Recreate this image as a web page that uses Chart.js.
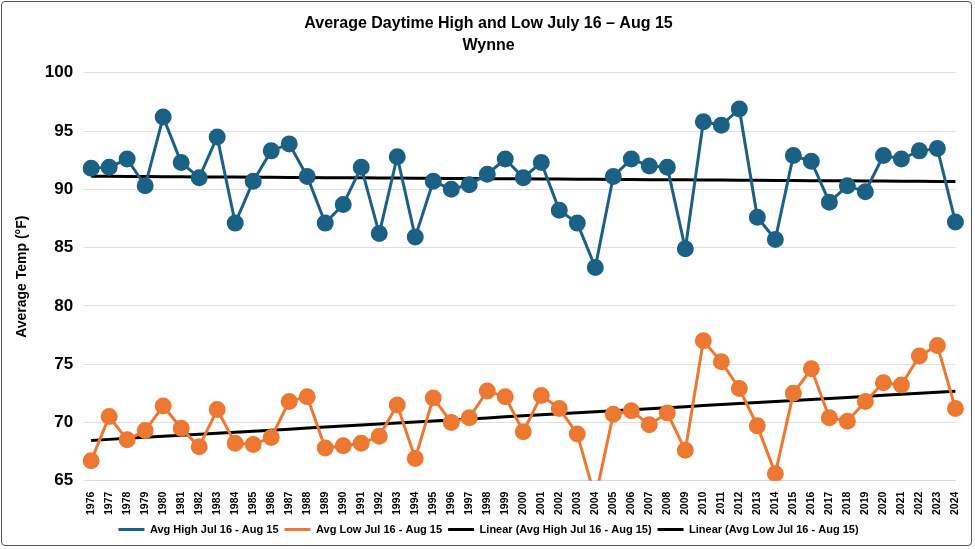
<!DOCTYPE html>
<html>
<head>
<meta charset="utf-8">
<script src="https://cdn.jsdelivr.net/npm/chart.js@4"></script>
<style>
  body { margin: 0; background: #fff; }
  #wrap { position: absolute; left: 1px; top: 1px; width: 971px; height: 545px; border: 1px solid #555; border-radius: 4px; box-sizing: border-box; }
</style>
</head>
<body>
<div id="wrap"><canvas id="chart"></canvas></div>
<script>
const years = [];
for (let y = 1976; y <= 2024; y++) years.push(String(y));

const highs = [91.8, 91.9, 92.6, 90.3, 96.2, 92.3, 91.0, 94.5, 87.1, 90.7,
    93.3, 93.9, 91.1, 87.1, 88.7, 91.9, 86.2, 92.8, 85.9, 90.7,
    90.0, 90.4, 91.3, 92.6, 91.0, 92.3, 88.2, 87.1, 83.3, 91.1,
    92.6, 92.0, 91.9, 84.9, 95.8, 95.5, 96.9, 87.6, 85.7, 92.9,
    92.4, 88.9, 90.3, 89.8, 92.9, 92.6, 93.3, 93.5, 87.2];

const lows = [66.7, 70.5, 68.5, 69.3, 71.4, 69.5, 67.9, 71.1, 68.2, 68.1,
    68.7, 71.8, 72.2, 67.8, 68.0, 68.2, 68.8, 71.5, 66.9, 72.1,
    70.0, 70.4, 72.7, 72.2, 69.2, 72.3, 71.2, 69.0, 63.5, 70.7,
    71.0, 69.8, 70.8, 67.6, 77.0, 75.2, 72.9, 69.7, 65.6, 72.5,
    74.6, 70.4, 70.1, 71.8, 73.4, 73.2, 75.7, 76.6, 71.2];

// least squares trend, like Excel's linear trendline
function linearFit(values) {
    const n = values.length;
    let sx = 0, sy = 0, sxy = 0, sxx = 0;
    values.forEach((v, i) => { sx += i; sy += v; sxy += i * v; sxx += i * i; });
    const b = (n * sxy - sx * sy) / (n * sxx - sx * sx);
    const a = (sy - b * sx) / n;
    return values.map((v, i) => a + b * i);
}

const blue = '#1a6185';
const orange = '#ed7832';
const bold = { family: 'Liberation Sans, Arial', weight: 'bold' };

new Chart('chart', {
    type: 'line',
    data: {
        labels: years,
        datasets: [{
            label: 'Avg High Jul 16 - Aug 15',
            data: highs,
            borderColor: blue, backgroundColor: blue,
            borderWidth: 3, pointRadius: 7, pointHoverRadius: 7
        }, {
            label: 'Avg Low Jul 16 - Aug 15',
            data: lows,
            borderColor: orange, backgroundColor: orange,
            borderWidth: 3, pointRadius: 7, pointHoverRadius: 7
        }, {
            label: 'Linear (Avg High Jul 16 - Aug 15)',
            data: linearFit(highs),
            borderColor: '#000', backgroundColor: '#000',
            borderWidth: 3, pointRadius: 0
        }, {
            label: 'Linear (Avg Low Jul 16 - Aug 15)',
            data: linearFit(lows),
            borderColor: '#000', backgroundColor: '#000',
            borderWidth: 3, pointRadius: 0
        }]
    },
    options: {
        animation: false,
        responsive: true,
        maintainAspectRatio: false,
        layout: { padding: { left: 8, right: 4, top: 4, bottom: 0 } },
        plugins: {
            title: {
                display: true,
                text: ['Average Daytime High and Low July 16 \u2013 Aug 15', 'Wynne'],
                color: '#000',
                font: { ...bold, size: 16, lineHeight: 1.4 },
                padding: { top: 6, bottom: 16 }
            },
            legend: {
                position: 'bottom',
                labels: {
                    color: '#333',
                    font: { ...bold, size: 11 },
                    boxWidth: 26,
                    boxHeight: 3,
                    padding: 6,
                    generateLabels: (chart) => chart.data.datasets.map((ds, i) => ({
                        text: ds.label,
                        fillStyle: ds.borderColor,
                        strokeStyle: ds.borderColor,
                        lineWidth: 0,
                        datasetIndex: i
                    }))
                }
            },
            tooltip: { enabled: false }
        },
        scales: {
            x: {
                grid: { display: false },
                border: { color: '#d9d9d9' },
                ticks: {
                    color: '#000',
                    font: { ...bold, size: 10.5 },
                    maxRotation: 90, minRotation: 90,
                    autoSkip: false
                }
            },
            y: {
                min: 65, max: 100,
                grid: { color: '#e0e0e0' },
                border: { display: false },
                ticks: {
                    stepSize: 5,
                    color: '#000',
                    font: { ...bold, size: 17 },
                    padding: 10
                },
                title: {
                    display: true,
                    text: 'Average Temp (\u00b0F)',
                    color: '#000',
                    font: { ...bold, size: 14 }
                }
            }
        }
    }
});
</script>
</body>
</html>
